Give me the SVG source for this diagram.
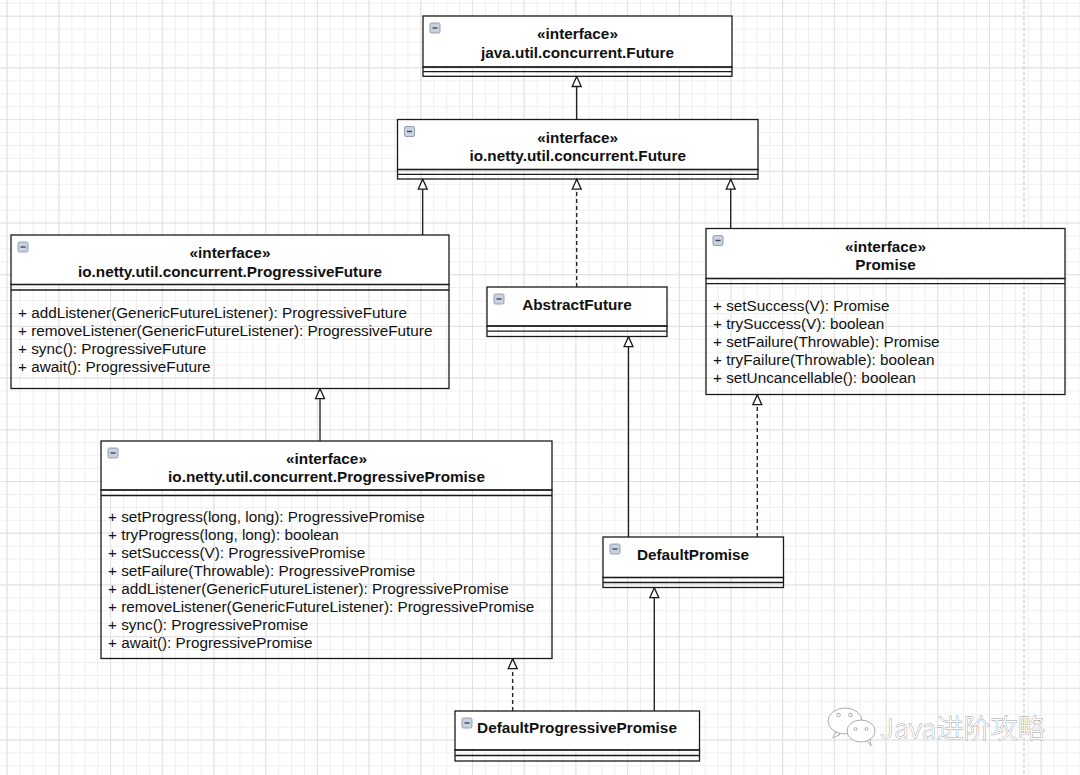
<svg xmlns="http://www.w3.org/2000/svg" width="1080" height="775" viewBox="0 0 1080 775">
<style>
.box{fill:none;stroke:#1a1a1a;stroke-width:1.3}
.hdr{fill:#fff;stroke:#1a1a1a;stroke-width:1.3}
.ln{stroke:#1a1a1a;stroke-width:1.3;fill:none}
.t{font-family:"Liberation Sans",Arial,Helvetica,sans-serif;font-size:15.3px;fill:#111}
.b{font-weight:bold;text-anchor:middle}
.ico{fill:#c9d2de;stroke:#7d8ea6;stroke-width:0.8}
.icm{stroke:#3e4a5a;stroke-width:1.4}
.con{stroke:#1a1a1a;stroke-width:1.3;fill:none;marker-end:url(#tri)}
.dash{stroke-dasharray:4 3}
.wm{fill:#fff;stroke:#a0a0a0;stroke-width:0.9}
</style>
<defs>
<pattern id="minor" patternUnits="userSpaceOnUse" x="6.7" y="2.775" width="12.925" height="12.925">
<path d="M0.5,0V12.925M0,0.5H12.925" stroke="#efefef" stroke-width="1" fill="none"/>
</pattern>
<pattern id="major" patternUnits="userSpaceOnUse" x="6.7" y="15.7" width="51.7" height="51.7">
<path d="M0.5,0V51.7M0,0.5H51.7" stroke="#e1e1e1" stroke-width="1" fill="none"/>
</pattern>
<marker id="tri" markerUnits="userSpaceOnUse" viewBox="0 0 12 12" markerWidth="12" markerHeight="12" refX="11" refY="6" orient="auto">
<path d="M1,1.5 L11,6 L1,10.5 Z" fill="#fff" stroke="#1a1a1a" stroke-width="1.3"/>
</marker>
<g id="icon"><rect class="ico" x="0" y="0" width="10" height="10" rx="1.5"/><path class="icm" d="M2.5,5H7.5"/></g>
</defs>
<rect width="1080" height="775" fill="#fff"/>
<rect width="1080" height="775" fill="url(#minor)"/>
<rect width="1080" height="775" fill="url(#major)"/>
<path d="M1024,0V775" stroke="#d2d2d2" stroke-width="1.3" stroke-dasharray="3.5 2"/>

<g id="connectors">
<path class="con" d="M576.7,119.5V76.5"/>
<path class="con" d="M422.7,235V179.2"/>
<path class="con dash" d="M576.7,287V179.2"/>
<path class="con" d="M730.7,228.5V179.2"/>
<path class="con" d="M320,441V388.7"/>
<path class="con" d="M628.5,537V336.7"/>
<path class="con dash" d="M757.3,537V394.7"/>
<path class="con dash" d="M512.7,711V658.7"/>
<path class="con" d="M654.3,711V587.7"/>
</g>

<g id="java-future">
<rect class="hdr" x="423" y="16" width="309" height="51"/>
<rect class="box" x="423" y="67" width="309" height="9.3"/>
<path class="ln" d="M423,71.6H732"/>
<use href="#icon" x="430" y="23"/>
<text class="t b" x="577.5" y="39.3">«interface»</text>
<text class="t b" x="577.5" y="57.7">java.util.concurrent.Future</text>
</g>

<g id="netty-future">
<rect class="hdr" x="397.5" y="119.5" width="360.5" height="50"/>
<rect class="box" x="397.5" y="169.5" width="360.5" height="9.5"/>
<path class="ln" d="M397.5,174.4H758"/>
<use href="#icon" x="404.5" y="126.5"/>
<text class="t b" x="577.7" y="142.5">«interface»</text>
<text class="t b" x="577.7" y="161">io.netty.util.concurrent.Future</text>
</g>

<g id="progressive-future">
<rect class="hdr" x="11" y="235" width="438" height="49.5"/>
<rect class="box" x="11" y="284.5" width="438" height="104"/>
<path class="ln" d="M11,290H449"/>
<use href="#icon" x="18" y="242"/>
<text class="t b" x="230" y="258.3">«interface»</text>
<text class="t b" x="230" y="276.7">io.netty.util.concurrent.ProgressiveFuture</text>
<text class="t" x="18" y="318.3">+ addListener(GenericFutureListener): ProgressiveFuture</text>
<text class="t" x="18" y="336.3">+ removeListener(GenericFutureListener): ProgressiveFuture</text>
<text class="t" x="18" y="354.3">+ sync(): ProgressiveFuture</text>
<text class="t" x="18" y="372.3">+ await(): ProgressiveFuture</text>
</g>

<g id="abstract-future">
<rect class="hdr" x="487" y="287" width="180" height="39"/>
<rect class="box" x="487" y="326" width="180" height="10.5"/>
<path class="ln" d="M487,331.2H667"/>
<use href="#icon" x="494" y="294"/>
<text class="t b" x="577" y="310">AbstractFuture</text>
</g>

<g id="promise">
<rect class="hdr" x="706" y="228.5" width="359" height="50"/>
<rect class="box" x="706" y="278.5" width="359" height="116"/>
<path class="ln" d="M706,283.6H1065"/>
<use href="#icon" x="713" y="235.5"/>
<text class="t b" x="885.5" y="251.8">«interface»</text>
<text class="t b" x="885.5" y="270.2">Promise</text>
<text class="t" x="713" y="310.7">+ setSuccess(V): Promise</text>
<text class="t" x="713" y="328.7">+ trySuccess(V): boolean</text>
<text class="t" x="713" y="346.7">+ setFailure(Throwable): Promise</text>
<text class="t" x="713" y="364.7">+ tryFailure(Throwable): boolean</text>
<text class="t" x="713" y="382.7">+ setUncancellable(): boolean</text>
</g>

<g id="progressive-promise">
<rect class="hdr" x="101" y="441" width="451" height="49"/>
<rect class="box" x="101" y="490" width="451" height="168.5"/>
<path class="ln" d="M101,495.5H552"/>
<use href="#icon" x="108" y="448"/>
<text class="t b" x="326.5" y="463.8">«interface»</text>
<text class="t b" x="326.5" y="482">io.netty.util.concurrent.ProgressivePromise</text>
<text class="t" x="108" y="522.3">+ setProgress(long, long): ProgressivePromise</text>
<text class="t" x="108" y="540.3">+ tryProgress(long, long): boolean</text>
<text class="t" x="108" y="558.3">+ setSuccess(V): ProgressivePromise</text>
<text class="t" x="108" y="576.3">+ setFailure(Throwable): ProgressivePromise</text>
<text class="t" x="108" y="594.3">+ addListener(GenericFutureListener): ProgressivePromise</text>
<text class="t" x="108" y="612.3">+ removeListener(GenericFutureListener): ProgressivePromise</text>
<text class="t" x="108" y="630.3">+ sync(): ProgressivePromise</text>
<text class="t" x="108" y="648.3">+ await(): ProgressivePromise</text>
</g>

<g id="default-promise">
<rect class="hdr" x="603" y="537" width="180.5" height="40.5"/>
<rect class="box" x="603" y="577.5" width="180.5" height="10"/>
<path class="ln" d="M603,582.5H783.5"/>
<use href="#icon" x="610" y="544"/>
<text class="t b" x="693" y="560">DefaultPromise</text>
</g>

<g id="default-progressive-promise">
<rect class="hdr" x="455" y="711" width="244.5" height="39"/>
<rect class="box" x="455" y="750" width="244.5" height="11"/>
<path class="ln" d="M455,755.5H699.5"/>
<use href="#icon" x="462" y="718"/>
<text class="t b" x="577" y="733.3">DefaultProgressivePromise</text>
</g>

<g id="watermark">
<path class="wm" d="M836,731l-3,7l7,-3.5z"/>
<ellipse class="wm" cx="845" cy="721" rx="17" ry="13"/>
<circle class="wm" cx="838.5" cy="715" r="1.8"/>
<circle class="wm" cx="850.5" cy="715" r="1.8"/>
<path class="wm" d="M866,739l5,7l-1,-8z"/>
<ellipse class="wm" cx="861" cy="731" rx="14" ry="11"/>
<circle class="wm" cx="855.5" cy="729" r="1.5"/>
<circle class="wm" cx="866.5" cy="729" r="1.5"/>
<text x="880" y="738" textLength="165" lengthAdjust="spacingAndGlyphs" font-family="'Noto Sans CJK SC','Noto Sans',sans-serif" font-size="26" fill="#fff" stroke="#989898" stroke-width="0.8" paint-order="stroke" font-weight="300">Java进阶攻略</text>
</g>
</svg>
